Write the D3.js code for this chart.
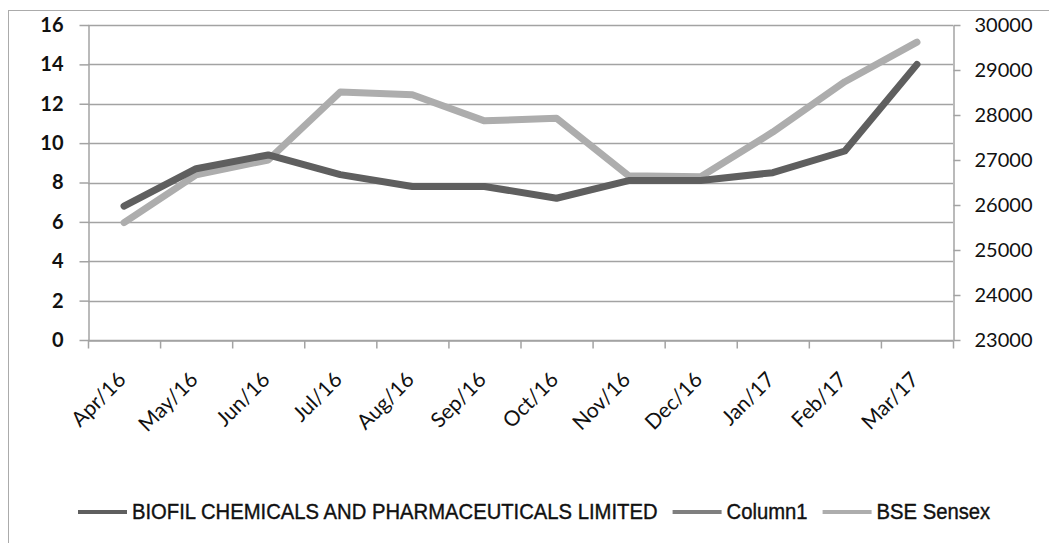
<!DOCTYPE html>
<html>
<head>
<meta charset="utf-8">
<script src="https://cdnjs.cloudflare.com/ajax/libs/d3/7.8.5/d3.min.js"></script>
<style>
  body { margin: 0; background: #fff; }
  svg { display: block; }
  .lab { font-family: Lato, "Open Sans", sans-serif; font-size: 20px; fill: #111; }
  .xlab { font-size: 21px; }
  .leg { font-family: "Liberation Sans Narrow", "Liberation Sans", sans-serif; font-size: 22px; fill: #111; stroke: #111; stroke-width: 0.4px; }
</style>
</head>
<body>
<svg id="chart" width="1049" height="543"></svg>
<script>
// chart data
var months = ['Apr/16', 'May/16', 'Jun/16', 'Jul/16', 'Aug/16', 'Sep/16',
  'Oct/16', 'Nov/16', 'Dec/16', 'Jan/17', 'Feb/17', 'Mar/17']
var biofil = [6.8, 8.7, 9.4, 8.4, 7.8, 7.8, 7.2, 8.1, 8.1, 8.5, 9.6, 14.0]
var sensex = [25610, 26670, 27000, 28510, 28450, 27870, 27930, 26650, 26630, 27620, 28740, 29620]
var leftTicks = [0, 2, 4, 6, 8, 10, 12, 14, 16]
var rightTicks = [23000, 24000, 25000, 26000, 27000, 28000, 29000, 30000]
var legendNames = ['BIOFIL CHEMICALS AND PHARMACEUTICALS LIMITED', 'Column1', 'BSE Sensex']
var colors = ['#5f5f5f', '#7f7f7f', '#adadad']

var svg = d3.select('#chart')
var grid = '#a3a3a3'
var plotL = 88, plotR = 953, plotT = 25, plotB = 340

// outer chart border (right and bottom edges fall outside the picture)
svg.append('rect')
  .attr('x', 8.5).attr('y', 10.5)
  .attr('width', 1100).attr('height', 600)
  .attr('fill', 'none').attr('stroke', '#ababab')

var x = d3.scaleBand().domain(months).range([plotL, plotR]).padding(0)
var xb = d3.scaleLinear().domain([0, months.length]).range([plotL, plotR])
var yL = d3.scaleLinear().domain([0, 16]).range([plotB, plotT])
var yR = d3.scaleLinear().domain([23000, 30000]).range([plotB, plotT])

// horizontal gridlines
svg.append('g').selectAll('line').data(leftTicks).join('line')
  .attr('x1', plotL).attr('x2', plotR)
  .attr('y1', function(d) { return Math.round(yL(d)) + 0.5 })
  .attr('y2', function(d) { return Math.round(yL(d)) + 0.5 })
  .attr('stroke', grid).attr('stroke-width', 1.5)

// left axis
var gl = svg.append('g').attr('transform', 'translate(' + (plotL + 0.5) + ',0)')
  .call(d3.axisLeft(yL).tickValues(leftTicks).tickSize(9).tickPadding(16).tickSizeOuter(0))
gl.selectAll('path, line').attr('stroke', grid).attr('stroke-width', 1.5)
gl.selectAll('text').attr('class', 'lab').style('font-weight', 'bold').attr('font-family', null).attr('font-size', null)

// right axis
var gr = svg.append('g').attr('transform', 'translate(' + (plotR + 0.5) + ',0)')
  .call(d3.axisRight(yR).tickValues(rightTicks).tickSize(7).tickPadding(14).tickSizeOuter(0)
    .tickFormat(d3.format('d')))
gr.selectAll('path, line').attr('stroke', grid).attr('stroke-width', 1.5)
gr.selectAll('text').attr('class', 'lab').attr('font-family', null).attr('font-size', null)

// bottom axis, ticks between categories
var gb = svg.append('g').attr('transform', 'translate(0,' + (plotB + 0.5) + ')')
  .call(d3.axisBottom(xb).ticks(months.length).tickSize(8).tickSizeOuter(0).tickFormat(''))
gb.selectAll('path, line').attr('stroke', grid).attr('stroke-width', 1.5)

svg.append('g').selectAll('text').data(months).join('text')
  .attr('class', 'lab xlab')
  .attr('text-anchor', 'end')
  .attr('transform', function(d) {
    return 'translate(' + (x(d) + x.bandwidth() / 2 + 3) + ',381) rotate(-45)'
  })
  .text(function(d) { return d })

// series lines
var cx = function(d, i) { return x(months[i]) + x.bandwidth() / 2 }
svg.append('path').datum(sensex)
  .attr('d', d3.line().x(cx).y(function(d) { return yR(d) }))
  .attr('fill', 'none').attr('stroke', colors[2]).attr('stroke-width', 7)
  .attr('stroke-linecap', 'round').attr('stroke-linejoin', 'round')
svg.append('path').datum(biofil)
  .attr('d', d3.line().x(cx).y(function(d) { return yL(d) }))
  .attr('fill', 'none').attr('stroke', colors[0]).attr('stroke-width', 7)
  .attr('stroke-linecap', 'round').attr('stroke-linejoin', 'round')

// legend (text squeezed a little to look like a condensed face)
var lg = svg.append('g').attr('transform', 'translate(78,512)')
var lx = 0
legendNames.forEach(function(name, i) {
  lg.append('line').attr('x1', lx).attr('x2', lx + 49).attr('y1', 0).attr('y2', 0)
    .attr('stroke', colors[i]).attr('stroke-width', 4)
  var t = lg.append('text').attr('class', 'leg').attr('x', lx + 54).attr('y', 7).text(name)
  var w = t.node().getComputedTextLength() * 0.92
  t.attr('textLength', w).attr('lengthAdjust', 'spacingAndGlyphs')
  lx += 54 + w + 15
})
</script>
</body>
</html>
